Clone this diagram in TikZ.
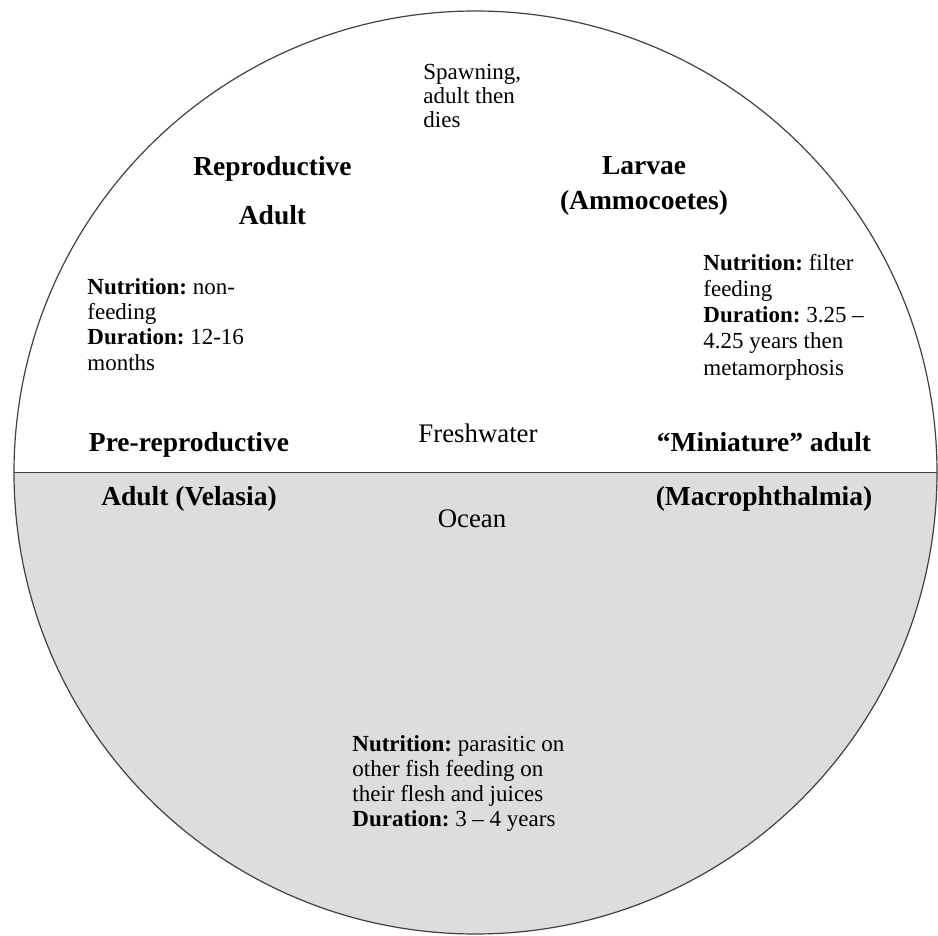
\documentclass[tikz,border=0pt]{standalone}
\usepackage{fontspec}
\setmainfont{Liberation Serif}
\frenchspacing
\usetikzlibrary{calc}
\definecolor{oceangray}{RGB}{221,221,221}
\tikzset{
  stage/.style={font=\bfseries\fontsize{13.75}{24.5}\selectfont, align=center, inner sep=0pt, anchor=north},
  info/.style={font=\fontsize{11.5}{13.1}\selectfont, align=left, inner sep=0pt, anchor=north west},
  water/.style={font=\fontsize{13.4}{16}\selectfont, inner sep=0pt, anchor=base},
}
\begin{document}
\begin{tikzpicture}[x=0.5pt,y=-0.5pt]
\def\R{461.5};
\useasboundingbox (0,0) rectangle (938,936);
\coordinate (c) at (475.5,472.5);
\coordinate (w) at ($(c)+(-\R,0)$); \coordinate (e) at ($(c)+(\R,0)$);
\fill[oceangray] (w) -- (e) arc[start angle=0, end angle=180, radius=\R] -- cycle;
\draw[line width=0.6pt, color=black!75] (c) circle[radius=\R];
\draw[line width=0.6pt, color=black!75] (w) -- (e);
\node[info, font=\fontsize{11.5}{12}\selectfont] (spawn) at (423,63.5) {Spawning,\\adult then\\dies};
\node[stage] (repro) at (272.5,156.4) {Reproductive\\Adult};
\node[stage, font=\bfseries\fontsize{13.75}{17.5}\selectfont] (larvae) at (644,156.4) {Larvae\\(Ammocoetes)};
\node[info, font=\fontsize{11.5}{12.7}\selectfont] (reproinfo) at (87,277.8) {\textbf{Nutrition:} non-\\feeding\\\textbf{Duration:} 12-16\\months};
\node[info] (larvaeinfo) at (703,253.8) {\textbf{Nutrition:} filter\\feeding\\\textbf{Duration:} 3.25 –\\4.25 years then\\metamorphosis};
\node[stage, font=\bfseries\fontsize{13.75}{27}\selectfont] (prerepro) at (189,432.4) {Pre-reproductive\\Adult (Velasia)};
\node[stage, font=\bfseries\fontsize{13.75}{27}\selectfont] (mini) at (764,432.4) {“Miniature” adult\\(Macrophthalmia)};
\node[water] (fresh) at (478,443) {Freshwater};
\node[water] (ocean) at (472,527) {Ocean};
\node[info, font=\fontsize{11.5}{12.6}\selectfont] (oceaninfo) at (352,735) {\textbf{Nutrition:} parasitic on\\other fish feeding on\\their flesh and juices\\\textbf{Duration:} 3 – 4 years};
\end{tikzpicture}
\end{document}
